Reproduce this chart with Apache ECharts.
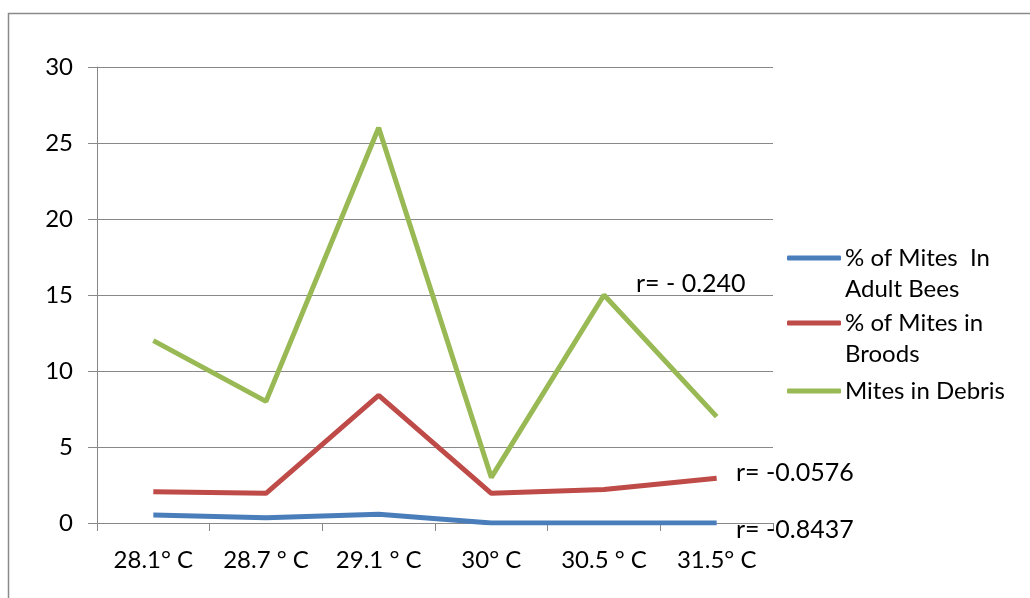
<!DOCTYPE html>
<html>
<head>
<meta charset="utf-8">
<script src="https://cdn.jsdelivr.net/npm/echarts@6/dist/echarts.min.js"></script>
<style>
  html, body { margin: 0; padding: 0; background: #fff; }
  #chart { width: 1030px; height: 598px; }
</style>
</head>
<body>
<div id="chart"></div>
<script>
// Temperatures along the category axis
const categories = ['28.1° C', '28.7 ° C', '29.1 ° C', '30° C', '30.5 ° C', '31.5° C'];

// Series values
const adultBees = [0.53, 0.35, 0.57, 0, 0, 0];
const broods = [2.05, 1.95, 8.4, 1.95, 2.2, 2.95];
const debris = [12, 8, 26, 3, 15, 7];

const seriesNames = ['% of Mites  In Adult Bees', '% of Mites in Broods', 'Mites in Debris'];
const legendLines = {
  '% of Mites  In Adult Bees': ['% of Mites  In', 'Adult Bees'],
  '% of Mites in Broods': ['% of Mites in', 'Broods'],
  'Mites in Debris': ['Mites in Debris']
};
const colors = ['#4A7EBB', '#BE4B48', '#98B954'];

// Correlation notes
const notes = ['r= - 0.240', 'r= -0.0576', 'r= -0.8437'];

const FONT = 'Lato, "Open Sans", sans-serif';
const chart = echarts.init(document.getElementById('chart'));

function legendFor(i, top) {
  return {
    left: 787,
    top: top,
    padding: 0,
    itemWidth: 54,
    itemHeight: 5,
    itemGap: 0,
    icon: 'roundRect',
    orient: 'vertical',
    data: [seriesNames[i]],
    formatter: function (name) {
      const l = legendLines[name];
      // a blank first line keeps the icon level with the first text line
      return l.length > 1 ? ' \n' + l.join('\n') : l[0];
    },
    textStyle: { fontFamily: FONT, fontSize: 24, color: '#000', lineHeight: 31, padding: [0, 0, 0, -1] }
  };
}

function note(text, x, y) {
  return {
    type: 'text', z: 10, x: x, y: y,
    style: { text: text, fontFamily: FONT, fontSize: 25, fill: '#000', verticalAlign: 'middle' }
  };
}

chart.setOption({
  animation: false,
  color: colors,
  grid: { left: 97, right: 257, top: 67, bottom: 75, containLabel: false },
  legend: [legendFor(0, 211.5), legendFor(1, 276.5), legendFor(2, 375.5)],
  xAxis: {
    type: 'category',
    data: categories,
    boundaryGap: true,
    axisLine: { lineStyle: { color: '#888', width: 1 } },
    axisTick: { show: true, length: 8, lineStyle: { color: '#888' } },
    axisLabel: { fontFamily: FONT, fontSize: 24, color: '#000', margin: 25 }
  },
  yAxis: {
    type: 'value',
    min: 0,
    max: 30,
    interval: 5,
    axisLine: { show: true, lineStyle: { color: '#888', width: 1 } },
    axisTick: { show: true, length: 9, lineStyle: { color: '#888' } },
    splitLine: { lineStyle: { color: '#888', width: 1 } },
    axisLabel: { fontFamily: FONT, fontSize: 24, color: '#000', margin: 24 }
  },
  series: [
    { name: seriesNames[0], type: 'line', data: adultBees, symbol: 'none', lineStyle: { width: 5, color: colors[0] }, z: 4 },
    { name: seriesNames[1], type: 'line', data: broods, symbol: 'none', lineStyle: { width: 5, color: colors[1] }, z: 3 },
    { name: seriesNames[2], type: 'line', data: debris, symbol: 'none', lineStyle: { width: 5, color: colors[2] }, z: 2 }
  ],
  graphic: [
    {
      type: 'rect', silent: true, z: -1,
      shape: { x: 8.5, y: 13.5, width: 1200, height: 800 },
      style: { fill: 'none', stroke: '#8a8a8a', lineWidth: 1.5 }
    },
    note(notes[0], 636, 284),
    note(notes[1], 736, 473),
    note(notes[2], 736, 530)
  ]
});
</script>
</body>
</html>
